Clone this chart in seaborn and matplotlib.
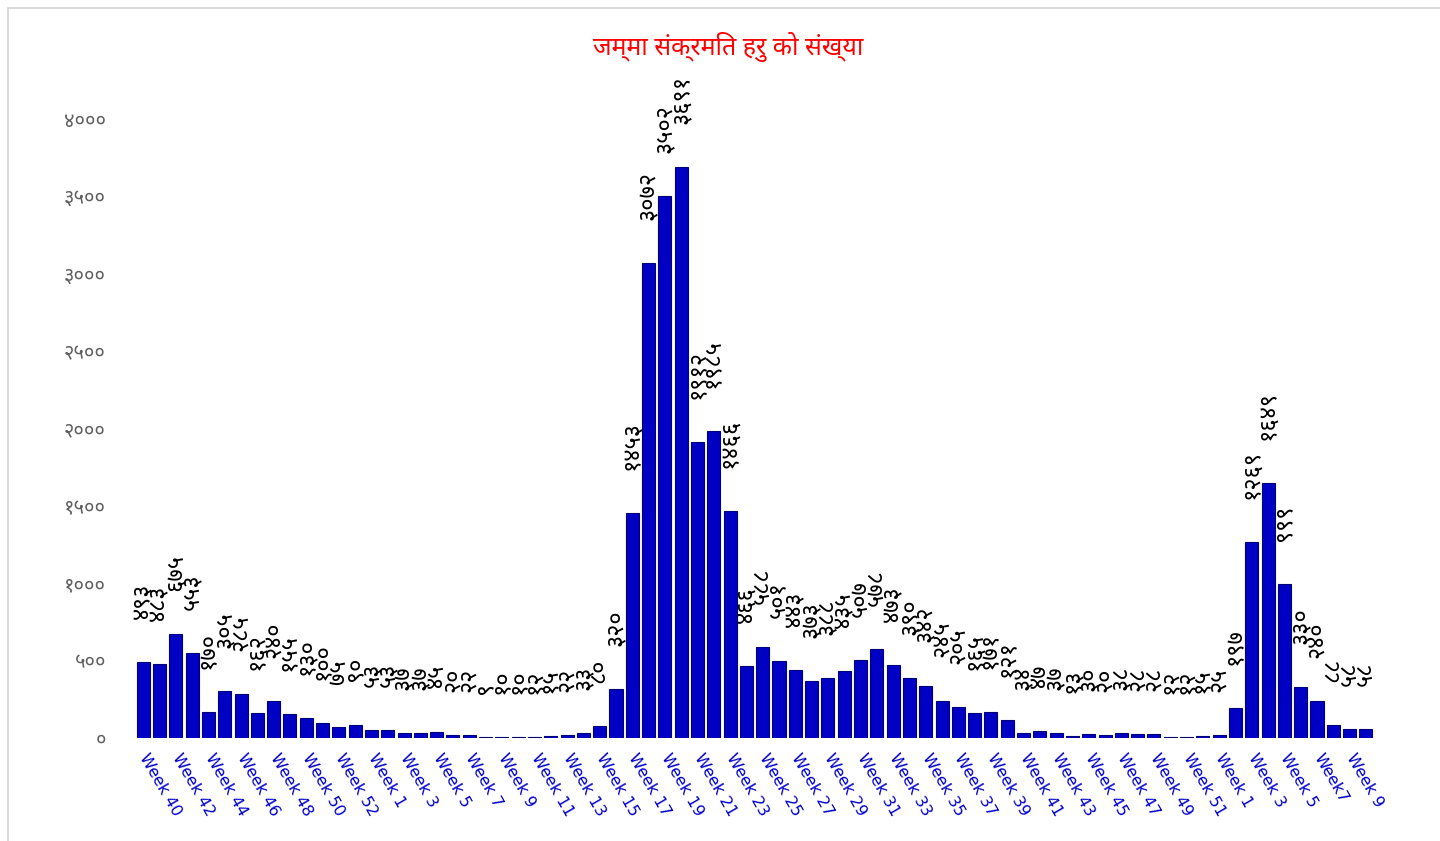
import matplotlib
matplotlib.use("Agg")
import matplotlib.pyplot as plt
import seaborn as sns
import pandas as pd
from matplotlib import font_manager
from matplotlib.ft2font import FT2Font
from matplotlib.patches import Rectangle

# weekly counts: 2020 wk 40-53, 2021 wk 1-52, 2022 wk 1-10
weeks_2020 = list(range(40, 54))
weeks_2021 = list(range(1, 53))
weeks_2022 = list(range(1, 11))
cases = [493, 483, 675, 553, 170, 305, 285, 162, 240, 155, 130, 100, 75, 90,
         53, 53, 37, 37, 45, 20, 22, 9, 10, 10, 12, 15, 22, 33, 80, 320,
         1453, 3072, 3502, 3691, 1912, 1985, 1466, 466, 588, 501, 443, 373, 388, 435,
         507, 578, 473, 390, 342, 245, 205, 165, 171, 121, 34, 47, 37, 13,
         30, 20, 38, 28, 28, 12, 12, 15, 25,
         197, 1269, 1649, 999, 330, 240, 88, 58, 58]
y_ticks = [0, 500, 1000, 1500, 2000, 2500, 3000, 3500, 4000]
title = "जम्मा संक्रमित हरु को संख्या"

week_labels = ([f"Week {w}" for w in weeks_2020] + [f"Week {w}" for w in weeks_2021]
               + [f"Week {w}" if w != 7 else f"Week{w}" for w in weeks_2022])

deva_digits = str.maketrans("0123456789", "०१२३४५६७८९")
def nep(n):
    return str(n).translate(deva_digits)

# pick an installed font with Devanagari glyphs
deva_names = set()
for f in font_manager.fontManager.ttflist:
    try:
        if 0x0966 in FT2Font(f.fname).get_charmap():
            deva_names.add(f.name)
    except Exception:
        pass
deva_font = None
for name in ["Noto Sans Devanagari", "Hind", "Mukta", "Poppins", "FreeSans"]:
    if name in deva_names:
        deva_font = name
        break
fam = [deva_font, "DejaVu Sans"] if deva_font else ["DejaVu Sans"]

df = pd.DataFrame({"idx": range(len(cases)), "cases": cases})

sns.set_style("white")
plt.rcParams["font.family"] = fam

fig = plt.figure(figsize=(14.4, 8.41), dpi=100)
ax = fig.add_axes([0.0938, 0.1219, 0.8604, 0.7366])

sns.barplot(data=df, x="idx", y="cases", color="#0000c4", width=0.8,
            edgecolor="#00007a", linewidth=0.8, saturation=1, ax=ax)

for i, v in enumerate(cases):
    ax.annotate(nep(v), (i, v), xytext=(0, 31), textcoords="offset points",
                rotation=90, ha="center", va="bottom", fontsize=17, color="black",
                family=fam)

ax.set_ylim(0, 4000)
ax.set_yticks(y_ticks)
ax.set_yticklabels([nep(t) for t in y_ticks], color="#606060", fontsize=14.5, family=fam)
ax.set_xticks(range(0, len(cases), 2))
ax.set_xticklabels(week_labels[::2], rotation=-60, ha="left", va="center",
                   rotation_mode="anchor", color="#0000cc", fontsize=11.5,
                   family="DejaVu Sans")
ax.tick_params(axis="both", length=0)
ax.tick_params(axis="x", pad=12)
ax.tick_params(axis="y", pad=21)
ax.set_xlabel("")
ax.set_ylabel("")
sns.despine(ax=ax, left=True, bottom=True)

fig.text(0.5056, 0.944, title, color="red", fontsize=18, ha="center", va="center",
         family=fam)
fig.add_artist(Rectangle((8 / 1440, -0.05), 1.1, 1 - 8 / 841 + 0.05,
                         transform=fig.transFigure, fill=False,
                         edgecolor="#d3d3d3", linewidth=1.2))

fig.savefig("out.png", dpi=100)
